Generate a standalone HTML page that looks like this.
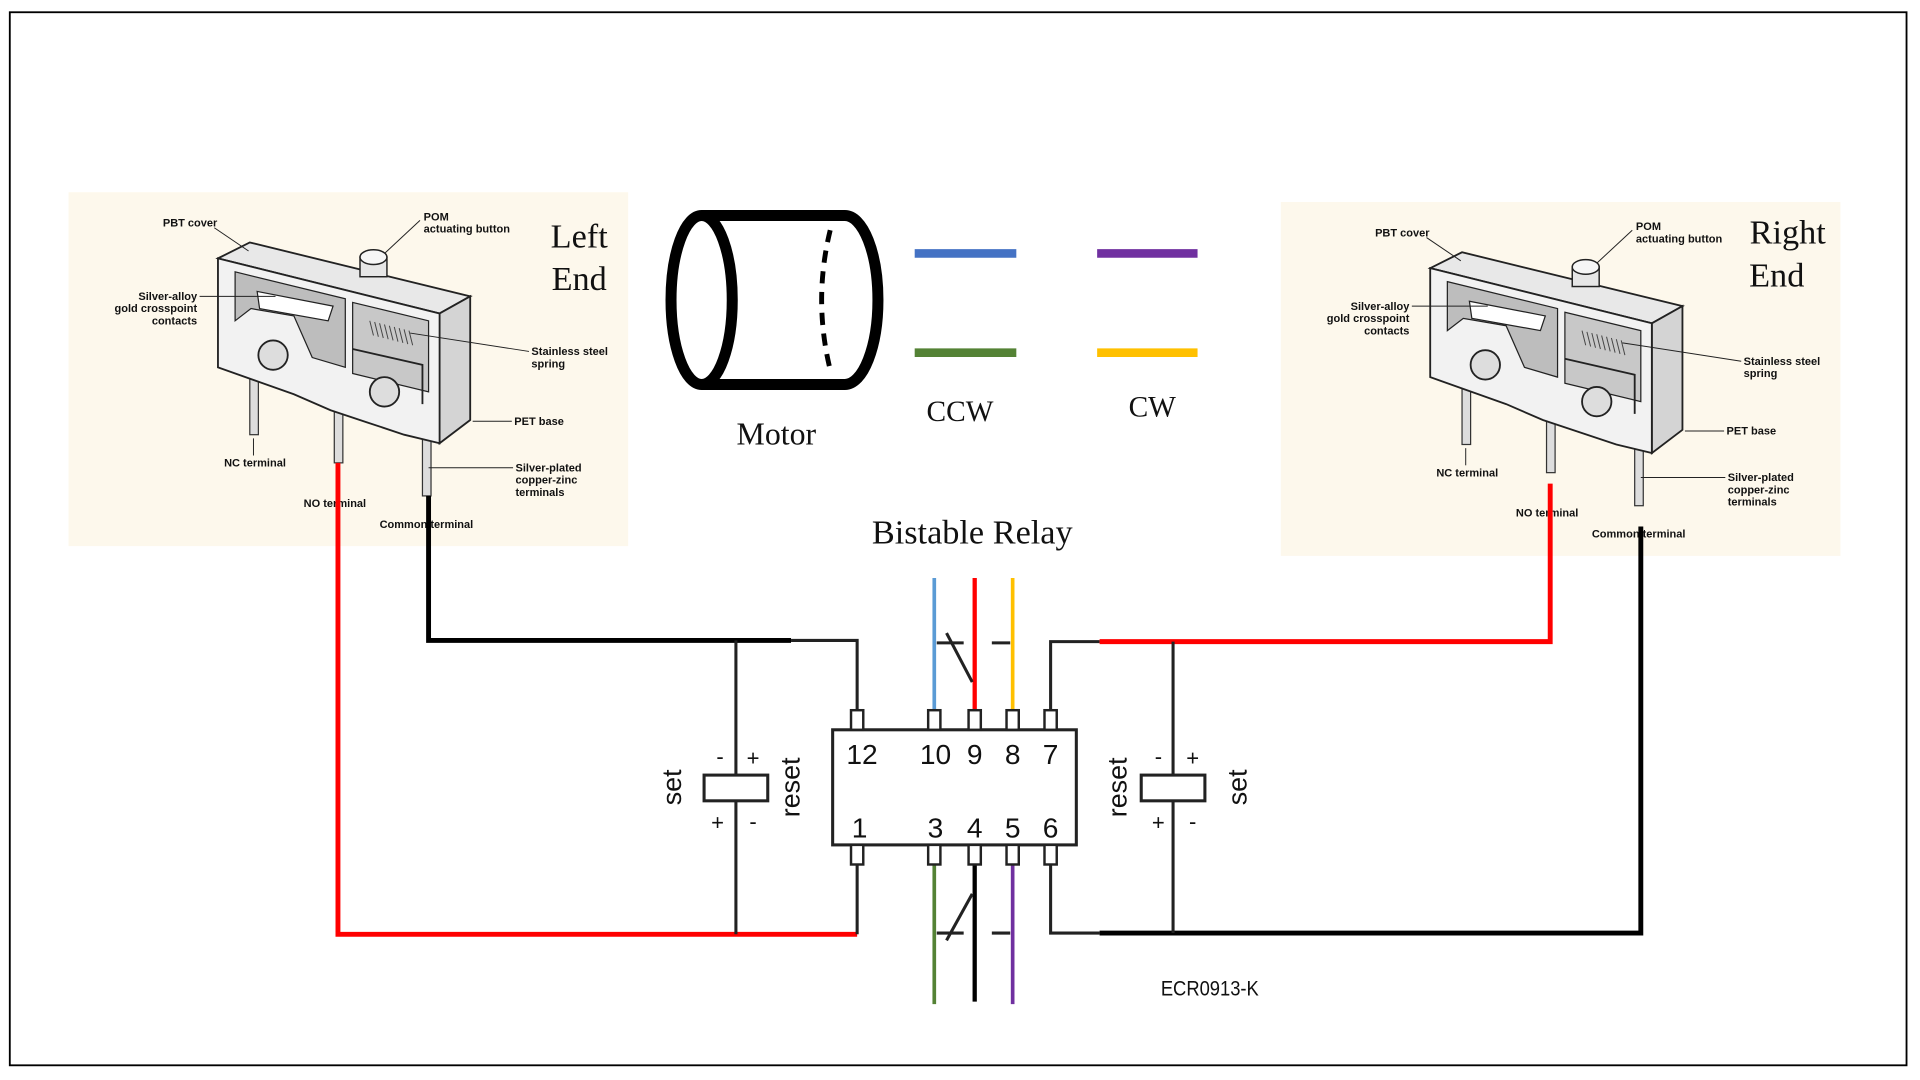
<!DOCTYPE html>
<html><head><meta charset="utf-8"><style>
html,body{margin:0;padding:0;background:#fff}
svg{display:block}
.lbl{font-family:"Liberation Sans Narrow","Liberation Sans",sans-serif;font-weight:bold;font-size:9px;fill:#111}
.ser{font-family:"Liberation Serif",serif;fill:#111}
.san{font-family:"Liberation Sans",sans-serif;fill:#111}
</style></head><body>
<svg width="1920" height="1080" viewBox="0 0 1568 882" xmlns="http://www.w3.org/2000/svg">
<rect x="0" y="0" width="1568" height="882" fill="#fff"/>
<rect x="8" y="10" width="1549" height="860" fill="none" stroke="#000" stroke-width="1.5"/>

<defs>
<g id="sw">
  <rect x="56" y="157" width="457" height="289" fill="#fdf8ec"/>
  <!-- pins -->
  <rect x="204" y="300" width="7" height="55" fill="#ddd" stroke="#333" stroke-width="1"/>
  <rect x="273" y="330" width="7" height="48" fill="#ddd" stroke="#333" stroke-width="1"/>
  <rect x="345" y="352" width="7" height="53" fill="#ddd" stroke="#333" stroke-width="1"/>
  <!-- top face -->
  <polygon points="178,211 204,198 384,242 359,256" fill="#e8e8e8" stroke="#222" stroke-width="1.5"/>
  <!-- right face -->
  <polygon points="359,256 384,242 384,343 359,362" fill="#d4d4d4" stroke="#222" stroke-width="1.5"/>
  <!-- front face -->
  <polygon points="178,211 359,256 359,362 330,355 300,345 270,335 240,322 178,300" fill="#f2f2f2" stroke="#222" stroke-width="1.5"/>
  <!-- cavity -->
  <polygon points="192,222 282,244 282,300 255,292 240,258 205,252 192,262" fill="#bdbdbd" stroke="#222" stroke-width="1"/>
  <polygon points="288,247 350,262 350,320 288,305" fill="#c8c8c8" stroke="#222" stroke-width="1"/>
  <polygon points="210,238 272,250 268,262 212,252" fill="#fff" stroke="#222" stroke-width="1"/>
  <g stroke="#444" stroke-width="0.8" fill="none">
    <path d="M302,262 l3,12 M306,263 l3,12 M310,264 l3,12 M314,265 l3,12 M318,266 l3,12 M322,267 l3,12 M326,268 l3,12 M330,269 l3,12 M334,270 l3,12"/>
  </g>
  <path d="M288,285 L345,298 L345,330" fill="none" stroke="#222" stroke-width="1.5"/>
  <circle cx="223" cy="290" r="12" fill="#ddd" stroke="#222" stroke-width="1.5"/>
  <circle cx="314" cy="320" r="12" fill="#ddd" stroke="#222" stroke-width="1.5"/>
  <!-- button -->
  <rect x="294" y="210" width="22" height="16" fill="#e6e6e6" stroke="#222" stroke-width="1.2"/>
  <ellipse cx="305" cy="210" rx="11" ry="6" fill="#f6f6f6" stroke="#222" stroke-width="1.2"/>
  <!-- leaders -->
  <g stroke="#222" stroke-width="0.8" fill="none">
    <line x1="175" y1="186" x2="203" y2="205"/>
    <line x1="343" y1="180" x2="314" y2="207"/>
    <line x1="163" y1="242" x2="225" y2="242"/>
    <line x1="432" y1="287" x2="335" y2="272"/>
    <line x1="418" y1="344" x2="386" y2="344"/>
    <line x1="207" y1="358" x2="207" y2="372"/>
    <line x1="419" y1="382" x2="350" y2="382"/>
  </g>
  <text class="lbl" x="133" y="185">PBT cover</text>
  <text class="lbl" x="346" y="180">POM</text>
  <text class="lbl" x="346" y="190">actuating button</text>
  <text class="lbl" x="161" y="245" text-anchor="end">Silver-alloy</text>
  <text class="lbl" x="161" y="255" text-anchor="end">gold crosspoint</text>
  <text class="lbl" x="161" y="265" text-anchor="end">contacts</text>
  <text class="lbl" x="434" y="290">Stainless steel</text>
  <text class="lbl" x="434" y="300">spring</text>
  <text class="lbl" x="420" y="347">PET base</text>
  <text class="lbl" x="183" y="381">NC terminal</text>
  <text class="lbl" x="248" y="414">NO terminal</text>
  <text class="lbl" x="310" y="431">Common terminal</text>
  <text class="lbl" x="421" y="385">Silver-plated</text>
  <text class="lbl" x="421" y="395">copper-zinc</text>
  <text class="lbl" x="421" y="405">terminals</text>
</g>
</defs>

<use href="#sw"/>
<use href="#sw" transform="translate(990,8)"/>

<text class="ser" x="473" y="202" font-size="28" text-anchor="middle">Left</text>
<text class="ser" x="473" y="237" font-size="28" text-anchor="middle">End</text>
<text class="ser" x="1460" y="199" font-size="28" text-anchor="middle">Right</text>
<text class="ser" x="1451" y="234" font-size="28" text-anchor="middle">End</text>

<!-- Motor -->
<path d="M573,176 L690,176 A27,69 0 0 1 690,314 L573,314" fill="none" stroke="#000" stroke-width="9"/>
<ellipse cx="573" cy="245" rx="25" ry="69" fill="none" stroke="#000" stroke-width="9"/>
<path d="M678,188 Q664,245 678,302" fill="none" stroke="#000" stroke-width="4" stroke-dasharray="10,7"/>
<text class="ser" x="634" y="363" font-size="26" text-anchor="middle">Motor</text>

<line x1="747" y1="207" x2="830" y2="207" stroke="#4472c4" stroke-width="7"/>
<line x1="896" y1="207" x2="978" y2="207" stroke="#7030a0" stroke-width="7"/>
<line x1="747" y1="288" x2="830" y2="288" stroke="#548235" stroke-width="7"/>
<line x1="896" y1="288" x2="978" y2="288" stroke="#ffc000" stroke-width="7"/>
<text class="ser" x="784" y="344" font-size="24" text-anchor="middle">CCW</text>
<text class="ser" x="941" y="340" font-size="24" text-anchor="middle">CW</text>
<text class="ser" x="794" y="444" font-size="28" text-anchor="middle">Bistable Relay</text>

<!-- wires -->
<g fill="none" stroke-linecap="butt">
  <polyline points="350,405 350,523 646,523" stroke="#000" stroke-width="4"/>
  <polyline points="646,523 700,523 700,582" stroke="#222" stroke-width="2.5"/>
  <polyline points="276,378 276,763 700,763" stroke="#f00" stroke-width="4"/>
  <line x1="700" y1="706" x2="700" y2="763" stroke="#222" stroke-width="2.5"/>
  <line x1="601" y1="523" x2="601" y2="763" stroke="#222" stroke-width="2.5"/>
  <polyline points="858,582 858,524 898,524" stroke="#222" stroke-width="2.5"/>
  <polyline points="898,524 1266,524 1266,395" stroke="#f00" stroke-width="4"/>
  <polyline points="858,706 858,762 898,762" stroke="#222" stroke-width="2.5"/>
  <polyline points="898,762 1340,762 1340,430" stroke="#000" stroke-width="4"/>
  <line x1="958" y1="524" x2="958" y2="762" stroke="#222" stroke-width="2.5"/>
  <line x1="763" y1="472" x2="763" y2="582" stroke="#5b9bd5" stroke-width="3"/>
  <line x1="796" y1="472" x2="796" y2="582" stroke="#f00" stroke-width="3.5"/>
  <line x1="827" y1="472" x2="827" y2="582" stroke="#ffc000" stroke-width="3"/>
  <line x1="763" y1="706" x2="763" y2="820" stroke="#548235" stroke-width="3"/>
  <line x1="796" y1="706" x2="796" y2="818" stroke="#000" stroke-width="3.5"/>
  <line x1="827" y1="706" x2="827" y2="820" stroke="#7030a0" stroke-width="3"/>
  <g stroke="#222" stroke-width="2.5">
    <line x1="765" y1="525" x2="787" y2="525"/><line x1="810" y1="525" x2="825" y2="525"/>
    <line x1="773" y1="517" x2="794" y2="557"/>
    <line x1="765" y1="762" x2="787" y2="762"/><line x1="810" y1="762" x2="825" y2="762"/>
    <line x1="773" y1="768" x2="794" y2="730"/>
  </g>
</g>

<!-- relay -->
<rect x="680" y="596" width="199" height="94" fill="#fff" stroke="#222" stroke-width="2.5"/>
<g fill="#fff" stroke="#222" stroke-width="2">
  <rect x="695" y="580" width="10" height="16"/><rect x="758" y="580" width="10" height="16"/>
  <rect x="791" y="580" width="10" height="16"/><rect x="822" y="580" width="10" height="16"/>
  <rect x="853" y="580" width="10" height="16"/>
  <rect x="695" y="690" width="10" height="16"/><rect x="758" y="690" width="10" height="16"/>
  <rect x="791" y="690" width="10" height="16"/><rect x="822" y="690" width="10" height="16"/>
  <rect x="853" y="690" width="10" height="16"/>
</g>
<g class="san" font-size="23" text-anchor="middle">
  <text x="704" y="624">12</text><text x="764" y="624">10</text><text x="796" y="624">9</text>
  <text x="827" y="624">8</text><text x="858" y="624">7</text>
  <text x="702" y="684">1</text><text x="764" y="684">3</text><text x="796" y="684">4</text>
  <text x="827" y="684">5</text><text x="858" y="684">6</text>
</g>

<!-- coils -->
<rect x="575" y="633" width="52" height="21" fill="#fff" stroke="#222" stroke-width="2.5"/>
<rect x="932" y="633" width="52" height="21" fill="#fff" stroke="#222" stroke-width="2.5"/>
<g class="san" font-size="18" text-anchor="middle">
  <text x="588" y="624">-</text><text x="615" y="625">+</text><text x="586" y="678">+</text><text x="615" y="677">-</text>
  <text x="946" y="624">-</text><text x="974" y="625">+</text><text x="946" y="678">+</text><text x="974" y="677">-</text>
</g>
<g class="san" font-size="22" text-anchor="middle">
  <text transform="translate(556,643) rotate(-90)">set</text>
  <text transform="translate(653,643) rotate(-90)">reset</text>
  <text transform="translate(920,643) rotate(-90)">reset</text>
  <text transform="translate(1018,643) rotate(-90)">set</text>
</g>
<text class="san" x="988" y="813" font-size="17" text-anchor="middle" textLength="80" lengthAdjust="spacingAndGlyphs">ECR0913-K</text>
</svg>
</body></html>
